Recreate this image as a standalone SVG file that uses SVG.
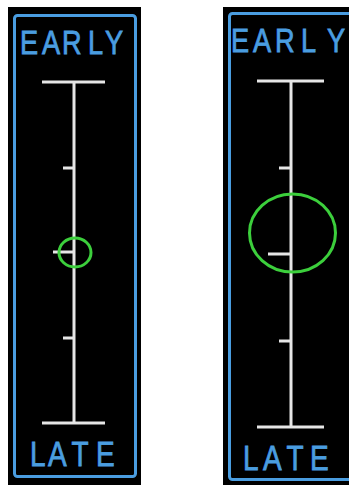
<svg xmlns="http://www.w3.org/2000/svg" width="349" height="485" viewBox="0 0 349 485">
  <style>
    .bg { fill: #000000; }
    .frame { fill: none; stroke: #4a9de0; stroke-width: 3; }
    .lbl { fill: #4a9de0; stroke: #4a9de0; stroke-width: 0.8; font-family: "Liberation Sans", Arial, sans-serif; font-size: 34px; }
    .lbl2 { font-size: 35px; }
    .scale { stroke: #e6e6e6; stroke-width: 3; fill: none; stroke-linecap: butt; }
    .pip { fill: none; stroke: #3ccf3c; stroke-width: 3; }
  </style>
  <rect width="349" height="485" fill="#ffffff"/>
  <g id="panel-left">
    <rect class="bg" x="8" y="7" width="133" height="478"/>
    <rect class="frame" x="14.5" y="15.5" width="121" height="461" rx="3"/>
    <text class="lbl" transform="translate(20,54) scale(0.8,1)" x="0 27.5 52.5 85 106.25" y="0">EARLY</text>
    <text class="lbl lbl2" transform="translate(30,466) scale(0.8,1)" x="0 22.5 51.9 82.5" y="0">LATE</text>
    <g class="scale">
      <line x1="74" y1="82" x2="74" y2="423"/>
      <line x1="42" y1="82" x2="105" y2="82"/>
      <line x1="42" y1="423" x2="105" y2="423"/>
      <line x1="63" y1="168" x2="74" y2="168"/>
      <line x1="53" y1="252" x2="74" y2="252"/>
      <line x1="63" y1="338" x2="74" y2="338"/>
    </g>
    <ellipse class="pip" cx="75" cy="252.5" rx="16" ry="14.5"/>
  </g>
  <g id="panel-right">
    <rect class="bg" x="223" y="7" width="126" height="478"/>
    <rect class="frame" x="229.5" y="13.5" width="125" height="466" rx="3"/>
    <text class="lbl" transform="translate(231,51.5) scale(0.8,1)" x="0 27.5 55 87.5 120" y="0">EARLY</text>
    <text class="lbl lbl2" transform="translate(243,470) scale(0.8,1)" x="0 25 54.4 83.75" y="0">LATE</text>
    <g class="scale">
      <line x1="291" y1="81" x2="291" y2="427"/>
      <line x1="257" y1="81" x2="324" y2="81"/>
      <line x1="257" y1="427" x2="324" y2="427"/>
      <line x1="279" y1="168" x2="291" y2="168"/>
      <line x1="268" y1="254" x2="291" y2="254"/>
      <line x1="279" y1="341" x2="291" y2="341"/>
    </g>
    <ellipse class="pip" cx="292.5" cy="233" rx="43" ry="39"/>
  </g>
</svg>
